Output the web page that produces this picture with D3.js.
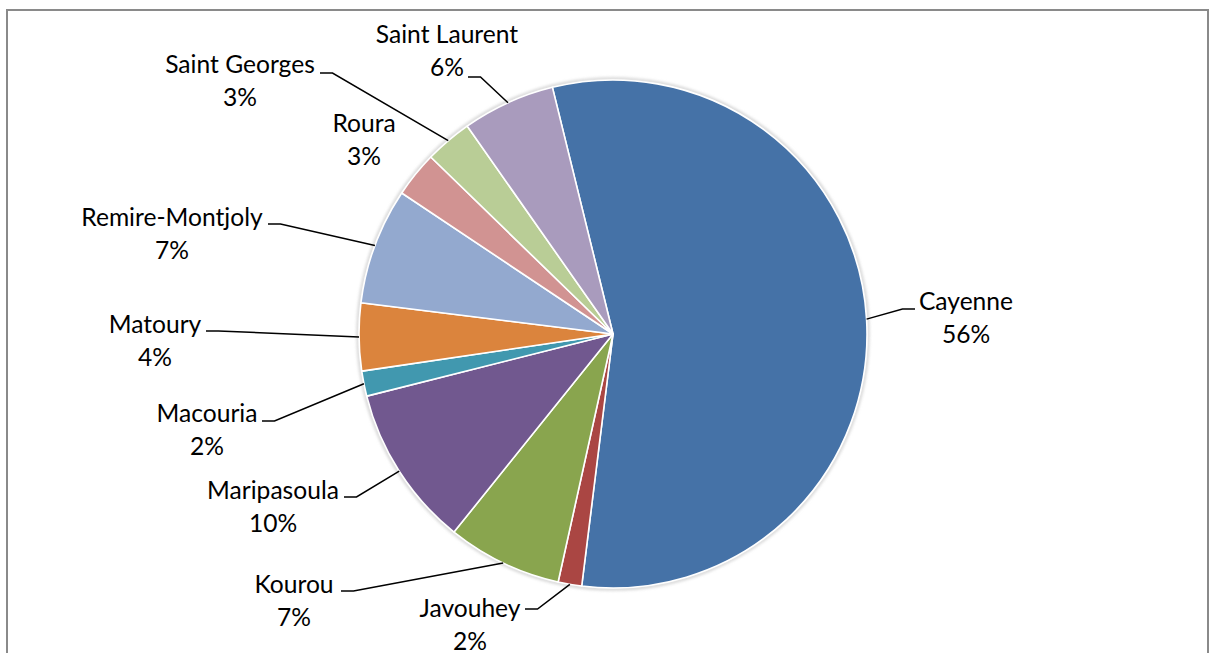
<!DOCTYPE html>
<html>
<head>
<meta charset="utf-8">
<script src="https://cdn.jsdelivr.net/npm/d3@7"></script>
<style>
  html, body { margin: 0; padding: 0; background: #fff; }
  svg { display: block; }
  text { font-family: Lato, "Open Sans", sans-serif; fill: #000; }
</style>
</head>
<body>
<svg id="chart" width="1209" height="653"></svg>
<script>
// ---- data ----
const categories = ["Cayenne", "Javouhey", "Kourou", "Maripasoula", "Macouria",
  "Matoury", "Remire-Montjoly", "Roura", "Saint Georges", "Saint Laurent"];
const shares = [55.8, 1.5, 7.3, 10.3, 1.6, 4.3, 7.4, 2.9, 3.0, 5.9];
const colors = ["#4572A7", "#AA4643", "#89A54E", "#71588F", "#4198AF",
  "#DB843D", "#93A9CF", "#D19392", "#B9CD96", "#A99BBD"];

// ---- layout (label placement, not data) ----
// x: text centre, y: first baseline, lx/ly: leader start, dir: elbow direction
const labelLayout = [
  {x: 966, y: 310, lx: 915, ly: 309, dir: -1},
  {x: 470, y: 617, lx: 525, ly: 609, dir: 1},
  {x: 294, y: 593, lx: 341, ly: 591, dir: 1},
  {x: 273, y: 499, lx: 344, ly: 497, dir: 1},
  {x: 207, y: 422, lx: 262, ly: 421, dir: 1},
  {x: 155, y: 333, lx: 206, ly: 331, dir: 1},
  {x: 172, y: 226, lx: 268, ly: 224, dir: 1},
  {x: 364, y: 132, lx: null, ly: null, dir: 0},
  {x: 240, y: 73, lx: 320, ly: 73, dir: 1},
  {x: 447, y: 43, lx: 468, ly: 77, dir: 1}
];

const W = 1209, H = 653;
const cx = 613, cy = 334, R = 254;
const startDeg = -13.8;

const svg = d3.select("#chart");

// frame
svg.append("rect")
  .attr("x", 7).attr("y", 10).attr("width", 1201).attr("height", 700)
  .attr("fill", "#fff").attr("stroke", "#8a8a8a").attr("stroke-width", 2);

const defs = svg.append("defs");
const f = defs.append("filter").attr("id", "soft").attr("x", "-10%").attr("y", "-10%")
  .attr("width", "120%").attr("height", "120%");
f.append("feGaussianBlur").attr("stdDeviation", 1.6);

const data = categories.map((c, i) => ({name: c, value: shares[i], color: colors[i], lay: labelLayout[i]}));
const total = d3.sum(shares);

const pie = d3.pie().value(d => d.value).sort(null)
  .startAngle(startDeg * Math.PI / 180)
  .endAngle(startDeg * Math.PI / 180 + 2 * Math.PI);
const arcs = pie(data);
const arc = d3.arc().innerRadius(0).outerRadius(R);

const g = svg.append("g").attr("transform", `translate(${cx},${cy})`);

// soft halo
g.append("circle").attr("r", R + 1.2).attr("fill", "none")
  .attr("stroke", "#cfcfcf").attr("stroke-width", 2.5).attr("filter", "url(#soft)");

g.selectAll("path.slice").data(arcs).join("path")
  .attr("class", "slice")
  .attr("d", arc)
  .attr("fill", d => d.data.color)
  .attr("stroke", "#fff").attr("stroke-width", 1.6).attr("stroke-linejoin", "round");

// leader lines
const edge = d3.arc().innerRadius(R).outerRadius(R);
arcs.forEach(a => {
  const L = a.data.lay;
  if (L.lx == null) return;
  const [ex, ey] = edge.centroid(a);
  const px = cx + ex, py = cy + ey;
  const elbowX = L.lx + L.dir * 12.5;
  svg.append("path")
    .attr("d", `M${L.lx},${L.ly}L${elbowX},${L.ly}L${px},${py}`)
    .attr("fill", "none").attr("stroke", "#000").attr("stroke-width", 1.5);
});

// labels
arcs.forEach(a => {
  const L = a.data.lay;
  const t = svg.append("text").attr("text-anchor", "middle")
    .style("font-size", "24.6px");
  t.append("tspan").attr("x", L.x).attr("y", L.y).text(a.data.name);
  t.append("tspan").attr("x", L.x).attr("y", L.y + 32.5)
    .text(Math.round(a.data.value / total * 100) + "%");
});
</script>
</body>
</html>
